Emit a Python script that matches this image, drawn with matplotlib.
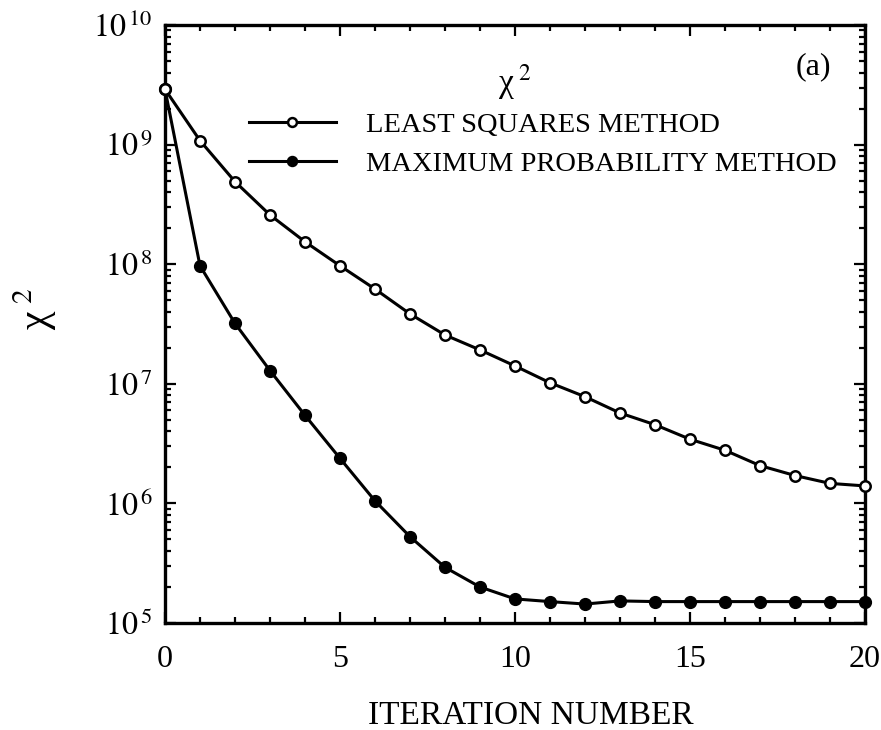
import numpy as np
import matplotlib.pyplot as plt
from matplotlib.ticker import FixedLocator, LogLocator, FuncFormatter, NullFormatter

plt.rcParams.update({
    'font.family': ['Liberation Serif', 'DejaVu Serif'],
    'mathtext.fontset': 'stix',
})

# chi^2 per iteration for the two fitting methods
iterations = np.arange(0, 21)
chi2_least_squares = [2.9e9, 1.08e9, 4.9e8, 2.58e8, 1.54e8, 9.7e7, 6.2e7, 3.84e7,
                      2.56e7, 1.92e7, 1.41e7, 1.02e7, 7.8e6, 5.7e6, 4.55e6, 3.44e6,
                      2.78e6, 2.07e6, 1.71e6, 1.47e6, 1.40e6]
chi2_max_prob = [2.9e9, 9.7e7, 3.2e7, 1.29e7, 5.45e6, 2.38e6, 1.05e6, 5.27e5,
                 2.92e5, 2.0e5, 1.59e5, 1.51e5, 1.44e5, 1.53e5, 1.51e5, 1.51e5,
                 1.51e5, 1.51e5, 1.51e5, 1.51e5, 1.51e5]
label_ls = 'LEAST SQUARES METHOD'
label_mp = 'MAXIMUM PROBABILITY METHOD'

W, H = 881, 730
fig = plt.figure(figsize=(W / 100, H / 100), dpi=100)
ax = fig.add_axes([165 / W, 1 - 623 / H, 700 / W, 598 / H])

ax.plot(iterations, chi2_least_squares, '-o', color='black', lw=2.2,
        ms=7.5, mfc='white', mec='black', mew=1.8, label=label_ls, clip_on=False, zorder=4)
ax.plot(iterations, chi2_max_prob, '-o', color='black', lw=2.2,
        ms=8.5, mfc='black', mec='black', label=label_mp, clip_on=False, zorder=3)

ax.set_yscale('log')
ax.set_xlim(0, 20)
ax.set_ylim(1e5, 1e10)

ax.xaxis.set_major_locator(FixedLocator([0, 5, 10, 15, 20]))
ax.xaxis.set_minor_locator(FixedLocator(np.arange(0, 21)))
ax.yaxis.set_major_locator(LogLocator(base=10, numticks=10))
ax.yaxis.set_minor_locator(LogLocator(base=10, subs=np.arange(2, 10), numticks=20))
ax.yaxis.set_major_formatter(FuncFormatter(lambda v, p: r'$10^{\,%d}$' % round(np.log10(v))))
ax.yaxis.set_minor_formatter(NullFormatter())

ax.tick_params(which='both', direction='in', top=True, right=True, width=1.6, colors='black')
ax.tick_params(which='major', length=8)
ax.tick_params(which='minor', length=4.5)
ax.tick_params(axis='x', which='major', labelsize=23, pad=16)
ax.tick_params(axis='y', which='major', labelsize=23, pad=9)

for s in ax.spines.values():
    s.set_linewidth(2.4)

ax.set_xlabel('ITERATION NUMBER', fontsize=24)
ax.xaxis.set_label_coords(0.523, -0.13)
ax.set_ylabel('χ$^{\\ 2}$', fontsize=30)
ax.yaxis.set_label_coords(-0.152, 0.525)

ax.text(0.5, 0.905, 'χ$^{\\ 2}$', transform=ax.transAxes, fontsize=24,
        ha='center', va='center')
ax.text(0.952, 0.93, '(a)', transform=ax.transAxes, fontsize=23,
        ha='right', va='center')

ax.legend(loc='upper left', bbox_to_anchor=(0.12, 0.854), frameon=False,
          fontsize=20.5, handlelength=3.05, handletextpad=1.05, labelspacing=0.46,
          borderpad=0, borderaxespad=0, markerscale=0.85)

fig.savefig('out.png', dpi=100)
